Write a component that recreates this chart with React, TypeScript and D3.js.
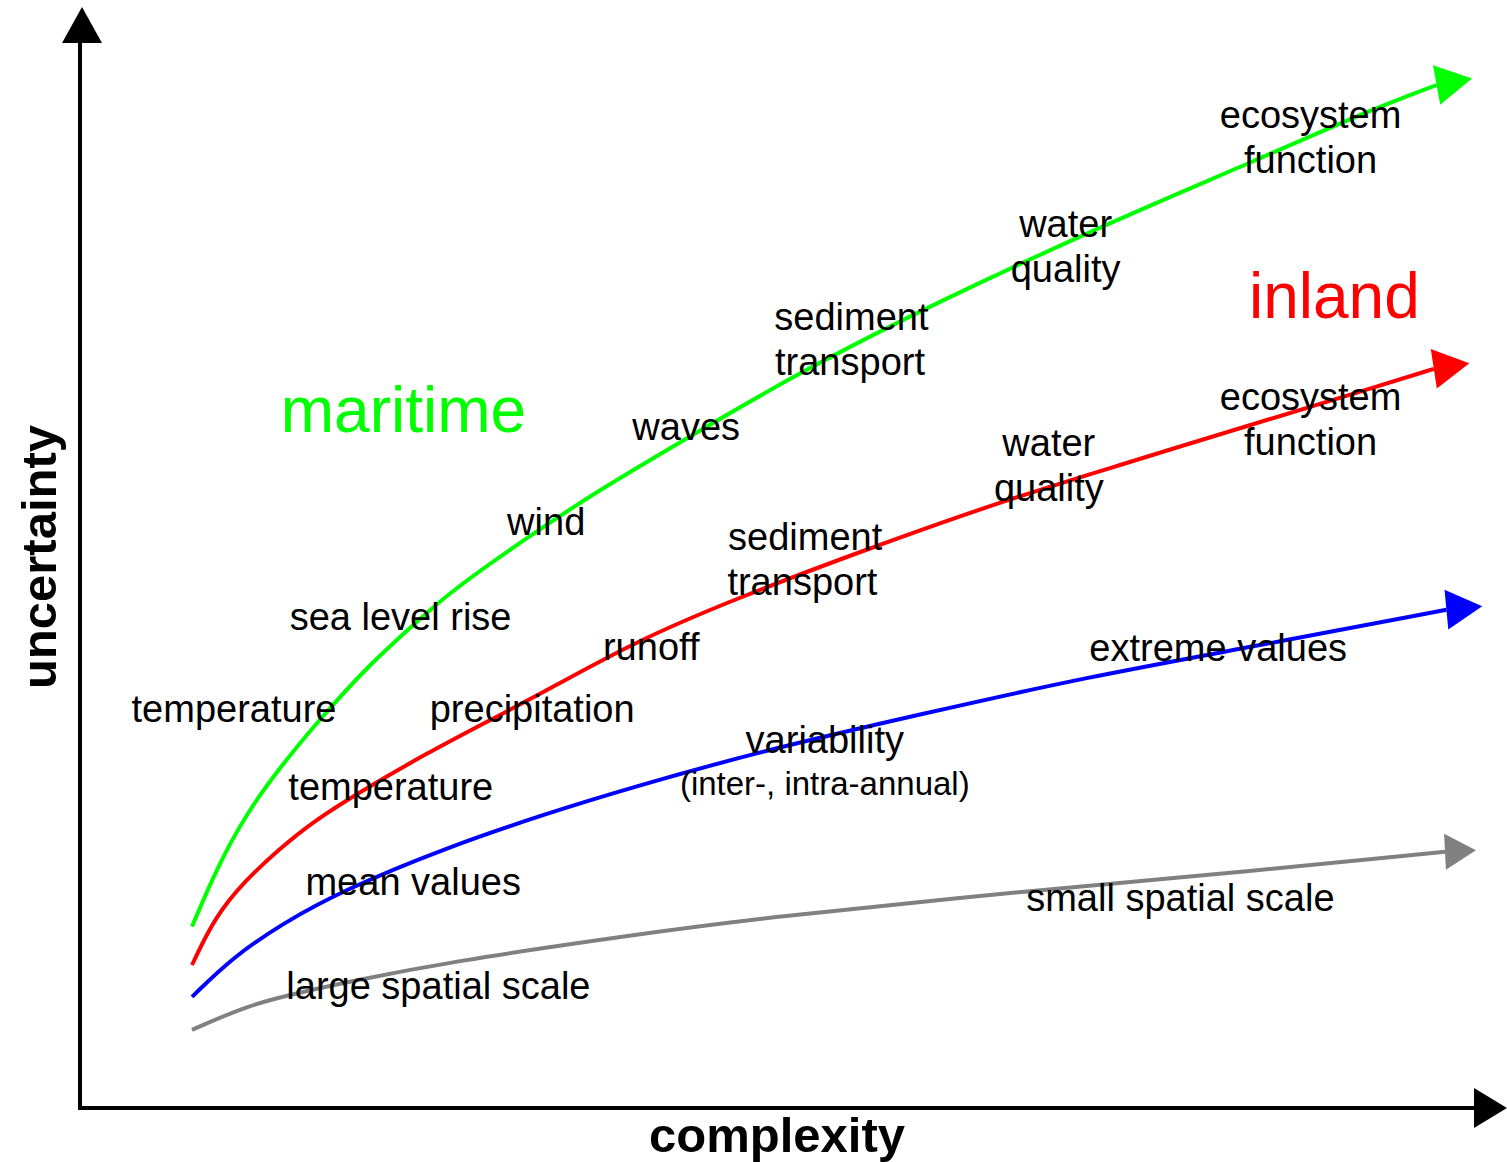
import React, { useEffect } from "react";
import * as d3 from "d3";

// ---- data (complexity, uncertainty) in arbitrary concept units ----
const maritimeCurve: [number, number][] = [
  [8.0, 16.5], [9.8, 21.9], [11.9, 26.8], [14.3, 31.0], [17.1, 35.3], [20.5, 40.1],
  [23.8, 43.9], [26.4, 46.9], [32.1, 52.0], [37.1, 56.2], [43.1, 60.7], [51.4, 66.9],
  [61.6, 73.5], [73.9, 80.7], [84.1, 86.2], [91.7, 90.5], [96.9, 93.0],
];
const inlandCurve: [number, number][] = [
  [8.0, 13.0], [9.6, 17.3], [11.8, 20.7], [14.3, 23.6], [16.6, 26.0], [20.2, 28.9],
  [25.0, 32.4], [28.6, 34.8], [33.4, 38.0], [39.5, 42.3], [46.6, 46.2], [56.2, 50.8],
  [65.7, 55.1], [73.9, 58.3], [84.1, 62.3], [91.7, 65.2], [96.7, 67.2],
];
const variabilityCurve: [number, number][] = [
  [8.0, 10.1], [10.9, 13.7], [14.5, 16.8], [18.8, 19.8], [26.2, 23.7], [33.4, 26.8],
  [39.3, 29.1], [48.8, 32.5], [60.4, 35.9], [72.0, 39.2], [83.6, 41.9], [97.6, 45.3],
];
const scaleCurve: [number, number][] = [
  [8.0, 7.1], [12.1, 9.4], [15.7, 10.5], [19.3, 11.5], [26.4, 13.3], [39.3, 15.7],
  [48.8, 17.3], [68.1, 19.8], [83.6, 21.5], [97.5, 23.3],
];

const maritimeLabels: [string, number, number][] = [
  ["temperature", 11.0, 35.1], ["sea level rise", 22.9, 43.5], ["wind", 33.3, 52.1],
  ["waves", 43.3, 60.7], ["sediment", 55.1, 70.7], ["transport", 55.0, 66.6],
  ["water", 70.4, 79.2], ["quality", 70.4, 75.1], ["ecosystem", 87.9, 89.1], ["function", 87.9, 85.0],
];
const inlandLabels: [string, number, number][] = [
  ["temperature", 22.2, 28.0], ["precipitation", 32.3, 35.1], ["runoff", 40.8, 40.7],
  ["sediment", 51.8, 50.7], ["transport", 51.6, 46.6], ["water", 69.2, 59.3],
  ["quality", 69.2, 55.2], ["ecosystem", 87.9, 63.5], ["function", 87.9, 59.4],
];
const variabilityLabels: [string, number, number][] = [
  ["mean values", 23.8, 19.4], ["variability", 53.2, 32.3], ["extreme values", 81.3, 40.6],
];
const subLabels: [string, number, number][] = [["(inter-, intra-annual)", 53.2, 28.5]];
const scaleLabels: [string, number, number][] = [
  ["large spatial scale", 25.6, 9.9], ["small spatial scale", 78.6, 17.9],
];
const groupTitles: [string, number, number, string][] = [
  ["maritime", 23.1, 61.5, "#00ff00"], ["inland", 89.6, 71.8, "#ff0000"],
];

const W = 1507, H = 1162;
const FONT = "'Liberation Sans', Arial, Helvetica, sans-serif";

const x = d3.scaleLinear().domain([0, 100]).range([80, 1480]);
const y = d3.scaleLinear().domain([0, 100]).range([1108, 8]);

const line = d3
  .line<[number, number]>()
  .x((d) => x(d[0]))
  .y((d) => y(d[1]))
  .curve(d3.curveBasis);

function arrowHead(pts: [number, number][], len: number, half: number) {
  const a = pts[pts.length - 2], b = pts[pts.length - 1];
  const x0 = x(b[0]), y0 = y(b[1]);
  const ang = Math.atan2(y(b[1]) - y(a[1]), x(b[0]) - x(a[0])) * 0.5;
  const c = Math.cos(ang), s = Math.sin(ang);
  const ax = x0 + c * len, ay = y0 + s * len;
  const p1x = x0 - s * half, p1y = y0 + c * half;
  const p2x = x0 + s * half, p2y = y0 - c * half;
  return `M${ax},${ay}L${p1x},${p1y}L${p2x},${p2y}Z`;
}

const series = [
  { pts: maritimeCurve, color: "#00ff00", len: 36, half: 20 },
  { pts: inlandCurve, color: "#ff0000", len: 36, half: 20 },
  { pts: variabilityCurve, color: "#0000ff", len: 36, half: 20 },
  { pts: scaleCurve, color: "#808080", len: 31, half: 18 },
];

export default function App() {
  useEffect(() => {
    document.body.style.margin = "0";
  }, []);
  const textLabels = [...maritimeLabels, ...inlandLabels, ...variabilityLabels, ...scaleLabels];
  return (
    <svg width={W} height={H} style={{ position: "absolute", left: 0, top: 0, background: "#fff" }} fontFamily={FONT}>
      <rect width={W} height={H} fill="#fff" />
      {/* axes */}
      <line x1={80} y1={1110} x2={80} y2={40} stroke="#000" strokeWidth={4} />
      <path d="M82,7L62,43L102,43Z" fill="#000" />
      <line x1={78} y1={1108} x2={1476} y2={1108} stroke="#000" strokeWidth={4} />
      <path d="M1507,1108L1474,1088L1474,1128Z" fill="#000" />
      {/* curves */}
      {series.map((s, i) => (
        <g key={i}>
          <path d={line(s.pts) || ""} fill="none" stroke={s.color} strokeWidth={4} />
          <path d={arrowHead(s.pts, s.len, s.half)} fill={s.color} />
        </g>
      ))}
      {/* labels */}
      {textLabels.map(([t, vx, vy], i) => (
        <text key={i} x={x(vx)} y={y(vy)} textAnchor="middle" fontSize={38} fill="#000">
          {t}
        </text>
      ))}
      {subLabels.map(([t, vx, vy], i) => (
        <text key={"s" + i} x={x(vx)} y={y(vy)} textAnchor="middle" fontSize={33} fill="#000">
          {t}
        </text>
      ))}
      {groupTitles.map(([t, vx, vy, c], i) => (
        <text key={"g" + i} x={x(vx)} y={y(vy)} textAnchor="middle" fontSize={64} fill={c}>
          {t}
        </text>
      ))}
      {/* axis titles */}
      <text x={777} y={1152} textAnchor="middle" fontSize={49} fontWeight="bold" fill="#000">
        complexity
      </text>
      <text transform="translate(56,557) rotate(-90)" textAnchor="middle" fontSize={49} fontWeight="bold" fill="#000">
        uncertainty
      </text>
    </svg>
  );
}
